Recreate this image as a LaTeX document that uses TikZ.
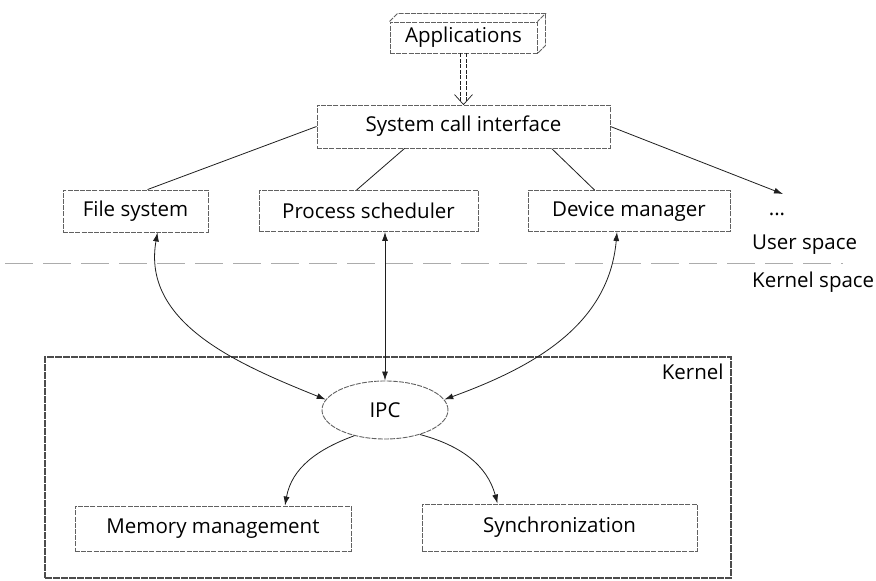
\documentclass[tikz,border=0pt]{standalone}
\usepackage{fontspec}
\setmainfont{Open Sans}
\usetikzlibrary{arrows.meta,calc,shapes.geometric}
\definecolor{boxline}{gray}{0.38}
\definecolor{kline}{gray}{0.3}
\definecolor{connc}{gray}{0.12}
\begin{document}
\begin{tikzpicture}[x=1pt,y=1pt,
  every node/.style={font=\fontsize{20.5}{24}\selectfont, text=black},
  box/.style={draw=boxline, line width=0.9pt, dash pattern=on 5pt off 1.2pt, fill=white, inner sep=0pt},
  conn/.style={draw=connc, line width=0.8pt},
  tip/.style={-{Latex[length=9pt,width=6pt]}},
  bothtips/.style={{Latex[length=9pt,width=6pt]}-{Latex[length=9pt,width=6pt]}},
  lbl/.style={inner sep=0pt}]
\useasboundingbox (0,0) rectangle (876,581);
\fill[white] (0,0) rectangle (876,581);

% kernel region
\node[draw=kline, line width=1.6pt, dash pattern=on 7pt off 1pt, minimum width=686pt, minimum height=221pt, inner sep=0pt] (kernel) at (388,113.5) {};
\node[lbl, anchor=east] (klabel) at ($(kernel.north east)+(-8,-16)$) {Kernel};

% applications (3D box)
\node[box, minimum width=147pt, minimum height=31pt] (apps) at (463.5,543.5) {Applications};
\draw[boxline, line width=0.9pt, dash pattern=on 5pt off 1.2pt] (apps.north west) -- ($(apps.north west)+(8,8)$) -- ($(apps.north east)+(8,8)$) -- (apps.north east);
\draw[boxline, line width=0.9pt, dash pattern=on 5pt off 1.2pt] ($(apps.north east)+(8,8)$) -- ($(apps.south east)+(8,8)$) -- (apps.south east);

% boxes
\node[box, minimum width=293pt, minimum height=43pt] (sci) at (463.5,454.5) {System call interface};
\node[box, minimum width=145pt, minimum height=42pt] (fs) at (135.5,370) {File system};
\node[box, minimum width=219pt, minimum height=41pt] (ps) at (368.5,370) {Process scheduler};
\node[box, minimum width=202pt, minimum height=41pt] (dm) at (629,370) {Device manager};
\node[lbl] (dots) at (777,367) {...};
\node[lbl, anchor=west] (us) at (752,336) {User space};
\node[lbl, anchor=west] (ks) at (752,299) {Kernel space};

% user / kernel separation
\coordinate (sepL) at (5,317);
\coordinate (sepR) at (843,317);
\draw[draw=gray!65, line width=1pt, dash pattern=on 28pt off 10pt] (sepL) -- (sepR);

\node[ellipse, draw=boxline, line width=0.9pt, dash pattern=on 5pt off 1.2pt, fill=white, minimum width=126pt, minimum height=58pt, inner sep=0pt] (ipc) at (385,171) {IPC};
\node[box, minimum width=276pt, minimum height=45pt] (mem) at (213,52.5) {Memory management};
\node[box, minimum width=275pt, minimum height=47pt] (sync) at (559.5,53.5) {Synchronization};

% applications -> system call interface (hollow double arrow)
\draw[connc, line width=0.7pt, dash pattern=on 4pt off 1.5pt] ($(apps.south)+(-3,0)$) -- ($(sci.north)+(-3,3.3)$);
\draw[connc, line width=0.7pt, dash pattern=on 4pt off 1.5pt] ($(apps.south)+(3,0)$) -- ($(sci.north)+(3,3.3)$);
\draw[connc, line width=0.7pt] ($(sci.north)+(-9,10)$) -- (sci.north) -- ($(sci.north)+(9,10)$);

% system call interface -> subsystems
\draw[conn] (sci.west) -- ($(fs.north west)+(85,0)$);
\draw[conn] ($(sci.south west)+(88,0)$) -- ($(ps.north west)+(98,0)$);
\draw[conn] ($(sci.south west)+(235,0)$) -- ($(dm.north west)+(67,0)$);
\draw[conn, tip] (sci.east) -- ($(dots.center)+(6,20)$);

% subsystems <-> IPC
\draw[conn, bothtips] ($(fs.south)+(22,0)$) to[out=-100,in=158] (ipc.170);
\draw[conn, bothtips] (ipc.north) -- (ipc.north |- ps.south);
\draw[conn, bothtips] ($(dm.south)+(-12,0)$) to[out=-95,in=20] (ipc.10);

% IPC -> kernel services
\draw[conn, tip] (ipc.220) to[out=200,in=80] ($(mem.north)+(72,0)$);
\draw[conn, tip] (ipc.-35) to[out=-15,in=105] ($(sync.north)+(-62,0)$);
\end{tikzpicture}
\end{document}
